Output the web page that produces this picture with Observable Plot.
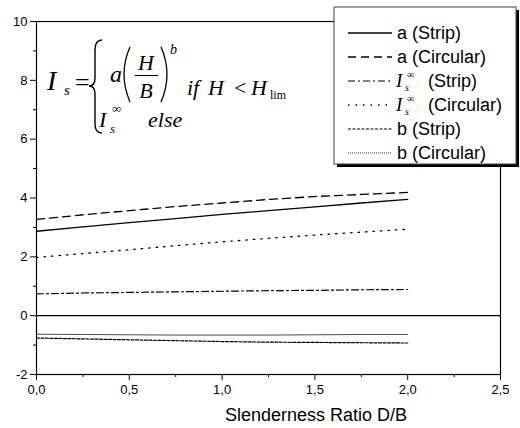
<!DOCTYPE html>
<html><head><meta charset="utf-8">
<script src="https://cdn.jsdelivr.net/npm/d3@7"></script>
<script src="https://cdn.jsdelivr.net/npm/@observablehq/plot@0.6"></script>
<style>body{margin:0;background:#fff} #c{width:520px;height:428px}</style>
</head><body><div id="c"></div>
<script>
const ratio = [0, 0.25, 0.5, 0.75, 1.0, 1.25, 1.5, 1.75, 2.0];
const aStrip    = [2.87, 3.02, 3.16, 3.30, 3.44, 3.57, 3.70, 3.83, 3.95];
const aCircular = [3.27, 3.43, 3.57, 3.71, 3.83, 3.95, 4.05, 4.12, 4.19];
const iStrip    = [0.74, 0.77, 0.79, 0.81, 0.83, 0.85, 0.86, 0.88, 0.89];
const iCircular = [1.98, 2.11, 2.24, 2.38, 2.51, 2.63, 2.74, 2.84, 2.94];
const bStrip    = [-0.76, -0.79, -0.82, -0.85, -0.88, -0.90, -0.91, -0.92, -0.93];
const bCircular = [-0.63, -0.64, -0.65, -0.66, -0.66, -0.66, -0.65, -0.64, -0.64];
const seriesKeys = ["aS", "aC", "iS", "iC", "bS", "bC"];
const seriesValues = [aStrip, aCircular, iStrip, iCircular, bStrip, bCircular];
const xTicks = [0, 0.5, 1.0, 1.5, 2.0, 2.5];
const xMinor = [0.25, 0.75, 1.25, 1.75, 2.25];
const yTicks = [-2, 0, 2, 4, 6, 8, 10];
const yMinor = [-1, 1, 3, 5, 7, 9];
const xTitle = "Slenderness Ratio D/B";

const dash = {aS: null, aC: "8,5", iS: "7,3,2,3", iC: "1.5,6", bS: "3,1.5", bC: "1,1"};
const width = {aS: 1.3, aC: 1.3, iS: 1.2, iC: 1.3, bS: 1.2, bC: 0.8};

const rows = [];
seriesKeys.forEach((k, i) => ratio.forEach((r, j) => rows.push({k, x: r, y: seriesValues[i][j]})));

const font = "'Liberation Sans', Arial, sans-serif";
const plot = Plot.plot({
  width: 520, height: 428,
  marginLeft: 36, marginRight: 20, marginTop: 21, marginBottom: 54,
  style: {fontFamily: font, fontSize: "13px", color: "#000", background: "#fff"},
  x: {domain: [0, 2.5]},
  y: {domain: [-2, 10]},
  marks: [
    Plot.frame({stroke: "#000", strokeWidth: 1.2}),
    Plot.ruleY([0], {stroke: "#000", strokeWidth: 1.2}),
    ...seriesKeys.map(k => Plot.line(rows.filter(d => d.k === k), {x: "x", y: "y", stroke: "#000", strokeWidth: width[k], strokeDasharray: dash[k]})),
    Plot.axisX({ticks: xTicks, tickSize: 6, tickPadding: 4, tickFormat: d => d.toFixed(1).replace(".", ","), label: null, fontSize: 13}),
    Plot.axisX({ticks: xMinor, tickSize: 3, tickFormat: () => "", label: null}),
    Plot.axisY({ticks: yTicks, tickSize: 6, tickPadding: 3, tickFormat: d => String(d), label: null, fontSize: 13}),
    Plot.axisY({ticks: yMinor, tickSize: 3, tickFormat: () => "", label: null})
  ]
});
document.getElementById("c").appendChild(plot);

const svg = d3.select(plot);
svg.append("text").attr("x", 316).attr("y", 421).attr("text-anchor", "middle")
  .attr("font-family", font).attr("font-size", 18).attr("fill", "#000").text(xTitle);

// formula
const serif = "'Liberation Serif', 'Times New Roman', serif";
const f = svg.append("g").attr("font-family", serif).attr("fill", "#000").attr("text-anchor", "start");
function t(g, x, y, s, size, italic, anchor, fam) {
  const e = g.append("text").attr("x", x).attr("y", y).attr("font-size", size)
    .attr("font-style", italic ? "italic" : "normal").attr("text-anchor", anchor || "start").text(s);
  if (fam) e.attr("font-family", fam);
  return e;
}
t(f, 47, 90, "I", 28, true);
t(f, 64, 95, "s", 15, true);
t(f, 75, 91, "=", 26, false);
f.append("path").attr("d", "M102,40 Q95,40 95,50 L95,78 Q95,86 89,86 Q95,86 95,94 L95,124 Q95,133 102,133")
  .attr("fill", "none").attr("stroke", "#000").attr("stroke-width", 1.4);
t(f, 110, 82, "a", 24, true);
f.append("path").attr("d", "M130,47 Q118,74 130,102").attr("fill", "none").attr("stroke", "#000").attr("stroke-width", 1.3);
t(f, 146, 70, "H", 22, true, "middle");
f.append("line").attr("x1", 135).attr("x2", 158).attr("y1", 75.5).attr("y2", 75.5).attr("stroke", "#000").attr("stroke-width", 1);
t(f, 146, 98, "B", 22, true, "middle");
f.append("path").attr("d", "M161,47 Q173,74 161,102").attr("fill", "none").attr("stroke", "#000").attr("stroke-width", 1.3);
t(f, 170, 54, "b", 14, true);
t(f, 187, 95, "if", 22, true);
t(f, 208, 95, "H", 22, true);
t(f, 234, 95, "<", 22, false);
t(f, 251, 95, "H", 22, true);
t(f, 270, 99, "lim", 12, false);
t(f, 99, 127, "I", 22, true);
t(f, 110, 133, "s", 13, true);
t(f, 112, 113, "∞", 13, false);
t(f, 148, 127, "else", 22, true);

// legend
const lg = svg.append("g").attr("font-family", font).attr("fill", "#000").attr("text-anchor", "start");
lg.append("rect").attr("x", 337).attr("y", 10).attr("width", 182).attr("height", 157).attr("fill", "#000");
lg.append("rect").attr("x", 334).attr("y", 7).attr("width", 182).attr("height", 157).attr("fill", "#fff").attr("stroke", "#444").attr("stroke-width", 1);
const legendLabels = [
  {k: "aS", main: "a (Strip)"}, {k: "aC", main: "a (Circular)"},
  {k: "iS", I: true, main: "(Strip)"}, {k: "iC", I: true, main: "(Circular)"},
  {k: "bS", main: "b (Strip)"}, {k: "bC", main: "b (Circular)"}
];
legendLabels.forEach((e, i) => {
  const cy = 33 + i * 24;
  lg.append("line").attr("x1", 348).attr("x2", 392).attr("y1", cy).attr("y2", cy)
    .attr("stroke", "#000").attr("stroke-width", width[e.k]).attr("stroke-dasharray", dash[e.k]);
  if (e.I) {
    t(lg, 396, cy + 6, "I", 19, true, "start", serif);
    t(lg, 405, cy + 10, "s", 10, true, "start", serif);
    t(lg, 407, cy - 3, "∞", 10, false, "start", serif);
    t(lg, 428, cy + 6, e.main, 18, false, "start");
  } else {
    t(lg, 397, cy + 6, e.main, 18, false, "start");
  }
});
</script>
</body></html>
